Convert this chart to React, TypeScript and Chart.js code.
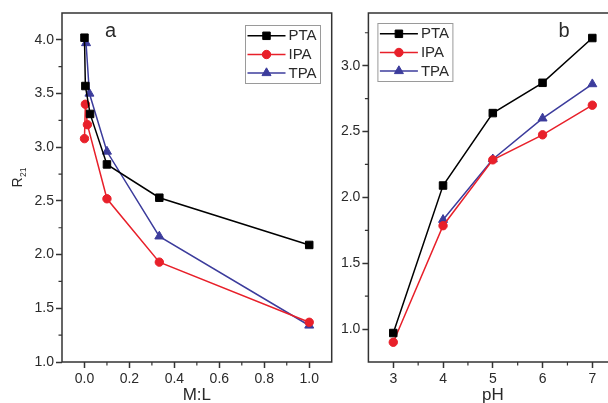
import React, { useEffect, useRef } from 'react';
import { Chart, registerables } from 'chart.js';

Chart.register(...registerables);

// ---------- data ----------
const seriesNames = ['PTA', 'IPA', 'TPA'];
const seriesColors = ['#000000', '#e8202a', '#3c3c9c'];
const seriesMarkers = ['rect', 'circle', 'triangle'];
const seriesRadius = [5.3, 4.2, 5.2];

// panel a : R21 vs M:L
const ratioPTA = [0, 0.004, 0.025, 0.1, 0.333, 1.0];
const r21PTA = [4.02, 3.57, 3.31, 2.84, 2.53, 2.09];
const ratioIPA = [0, 0.004, 0.013, 0.1, 0.333, 1.0];
const r21IPA = [3.08, 3.4, 3.21, 2.52, 1.93, 1.37];
const ratioTPA = [0.007, 0.022, 0.1, 0.333, 1.0];
const r21TPA = [3.97, 3.5, 2.96, 2.17, 1.34];

// panel b : R21 vs pH
const phPTA = [3, 4, 5, 6, 7];
const phR21PTA = [0.97, 2.09, 2.64, 2.87, 3.21];
const phIPA = [3, 4, 5, 6, 7];
const phR21IPA = [0.9, 1.785, 2.285, 2.475, 2.7];
const phTPA = [4, 5, 6, 7];
const phR21TPA = [1.83, 2.29, 2.6, 2.86];

// ticks
const xTicksA = [0, 0.2, 0.4, 0.6, 0.8, 1.0];
const xMinorA = [0.1, 0.3, 0.5, 0.7, 0.9];
const yTicksA = [1.0, 1.5, 2.0, 2.5, 3.0, 3.5, 4.0];
const yMinorA = [1.25, 1.75, 2.25, 2.75, 3.25, 3.75];
const xTicksB = [3, 4, 5, 6, 7];
const xMinorB = [3.5, 4.5, 5.5, 6.5];
const yTicksB = [1.0, 1.5, 2.0, 2.5, 3.0];
const yMinorB = [1.25, 1.75, 2.25, 2.75, 3.25];

// ---------- styling ----------
const FONT = '"Liberation Sans", Arial, Helvetica, sans-serif';
const AXIS_COLOR = '#333333';
const TEXT_COLOR = '#2a2a2a';

function toPoints(xs: number[], ys: number[]) {
  return xs.map((x, i) => ({ x, y: ys[i] }));
}

function makeDatasets(groups: { x: number[]; y: number[] }[]) {
  return groups.map((g, i) => ({
    label: seriesNames[i],
    data: toPoints(g.x, g.y),
    borderColor: seriesColors[i],
    backgroundColor: seriesColors[i],
    pointBackgroundColor: seriesColors[i],
    pointBorderColor: seriesColors[i],
    pointStyle: seriesMarkers[i],
    pointRadius: seriesRadius[i],
    pointBorderWidth: 1,
    borderWidth: 1.5,
    tension: 0,
    fill: false,
  }));
}

function drawMarker(ctx: CanvasRenderingContext2D, style: string, x: number, y: number, r: number) {
  ctx.beginPath();
  if (style === 'rect') {
    const s = Math.SQRT1_2 * r;
    ctx.rect(x - s, y - s, 2 * s, 2 * s);
  } else if (style === 'circle') {
    ctx.arc(x, y, r, 0, Math.PI * 2);
  } else {
    const k = (2 * Math.PI) / 3;
    ctx.moveTo(x, y - r);
    ctx.lineTo(x + Math.sin(k) * r, y - Math.cos(k) * r);
    ctx.lineTo(x + Math.sin(2 * k) * r, y - Math.cos(2 * k) * r);
    ctx.closePath();
  }
  ctx.fill();
  ctx.stroke();
}

type DecorOpts = {
  minorX: number[];
  minorY: number[];
  legendDx: number;
  legendDy: number;
  letter: string;
  letterDx: number;
  letterY: number;
  yLabel: boolean;
};

function decorPlugin(o: DecorOpts) {
  return {
    id: 'decor',
    afterDraw(chart: any) {
      const { ctx, chartArea: a, scales } = chart;
      ctx.save();
      // frame
      ctx.strokeStyle = AXIS_COLOR;
      ctx.lineWidth = 1.5;
      ctx.strokeRect(a.left, a.top, a.right - a.left, a.bottom - a.top);
      // minor ticks
      ctx.lineWidth = 1.2;
      ctx.beginPath();
      o.minorX.forEach((v) => {
        const px = scales.x.getPixelForValue(v);
        ctx.moveTo(px, a.bottom);
        ctx.lineTo(px, a.bottom + 3.5);
      });
      o.minorY.forEach((v) => {
        const py = scales.y.getPixelForValue(v);
        ctx.moveTo(a.left, py);
        ctx.lineTo(a.left - 3.5, py);
      });
      ctx.stroke();

      // legend
      const bx = a.left + o.legendDx;
      const by = a.top + o.legendDy;
      const bw = 75;
      const bh = 58;
      ctx.fillStyle = '#ffffff';
      ctx.fillRect(bx, by, bw, bh);
      ctx.strokeStyle = '#9a9a9a';
      ctx.lineWidth = 1;
      ctx.strokeRect(bx + 0.5, by + 0.5, bw, bh);
      const rows = [10.8, 29.5, 48];
      chart.data.datasets.forEach((ds: any, i: number) => {
        const ry = by + rows[i];
        ctx.strokeStyle = ds.borderColor;
        ctx.fillStyle = ds.borderColor;
        ctx.lineWidth = 1.5;
        ctx.beginPath();
        ctx.moveTo(bx + 2.5, ry);
        ctx.lineTo(bx + 40.5, ry);
        ctx.stroke();
        ctx.lineWidth = 1;
        drawMarker(ctx, ds.pointStyle, bx + 21.5, ry, ds.pointRadius);
        ctx.fillStyle = TEXT_COLOR;
        ctx.font = '15px ' + FONT;
        ctx.textAlign = 'left';
        ctx.textBaseline = 'middle';
        ctx.fillText(ds.label, bx + 43.5, ry + 0.5);
      });

      // panel letter
      ctx.fillStyle = TEXT_COLOR;
      ctx.font = '20px ' + FONT;
      ctx.textAlign = 'left';
      ctx.textBaseline = 'alphabetic';
      ctx.fillText(o.letter, a.left + o.letterDx, o.letterY);

      // y label R21
      if (o.yLabel) {
        ctx.translate(21.5, 187.5);
        ctx.rotate(-Math.PI / 2);
        ctx.font = '14px ' + FONT;
        ctx.fillText('R', 0, 0);
        const w = ctx.measureText('R').width;
        ctx.font = '8.5px ' + FONT;
        ctx.fillText('21', w + 0.5, 4.5);
      }
      ctx.restore();
    },
  };
}

function axisCommon(ticks: number[], fixed: number, fitSize: number, horizontal: boolean, title?: string) {
  return {
    type: 'linear' as const,
    afterBuildTicks: (s: any) => {
      s.ticks = ticks.map((v) => ({ value: v }));
    },
    afterFit: (s: any) => {
      if (horizontal) s.height = fitSize;
      else s.width = fitSize;
    },
    ticks: {
      autoSkip: false,
      maxRotation: 0,
      padding: horizontal ? 3 : 2,
      color: TEXT_COLOR,
      font: { family: FONT, size: 14 },
      callback: (v: any) => Number(v).toFixed(fixed),
    },
    grid: {
      display: true,
      drawOnChartArea: false,
      drawTicks: true,
      tickLength: 6,
      tickColor: AXIS_COLOR,
      tickWidth: 1.5,
      color: AXIS_COLOR,
    },
    border: { display: false },
    title: title
      ? {
          display: true,
          text: title,
          color: TEXT_COLOR,
          font: { family: FONT, size: 17, lineHeight: 0.95 },
          padding: 0,
        }
      : { display: false },
  };
}

function ChartPanel(props: { config: any; left: number; width: number }) {
  const ref = useRef<HTMLCanvasElement | null>(null);
  useEffect(() => {
    if (!ref.current) return;
    const chart = new Chart(ref.current, props.config);
    return () => chart.destroy();
  }, []);
  return (
    <canvas
      ref={ref}
      width={props.width}
      height={403}
      style={{ position: 'absolute', left: props.left, top: 0, width: props.width, height: 403 }}
    />
  );
}

const configA = {
  type: 'line',
  data: {
    datasets: makeDatasets([
      { x: ratioPTA, y: r21PTA },
      { x: ratioIPA, y: r21IPA },
      { x: ratioTPA, y: r21TPA },
    ]),
  },
  options: {
    responsive: false,
    animation: false,
    devicePixelRatio: 1,
    layout: { padding: { left: 0, top: 13, right: 3, bottom: 0 } },
    plugins: { legend: { display: false }, tooltip: { enabled: false } },
    scales: {
      x: { ...axisCommon(xTicksA, 1, 41, true, 'M:L'), min: -0.1, max: 1.1 },
      y: { ...axisCommon(yTicksA, 1, 62, false), min: 1.0, max: 4.25 },
    },
  },
  plugins: [
    decorPlugin({
      minorX: xMinorA,
      minorY: yMinorA,
      legendDx: 183,
      legendDy: 12,
      letter: 'a',
      letterDx: 43,
      letterY: 37,
      yLabel: true,
    }),
  ],
};

const configB = {
  type: 'line',
  data: {
    datasets: makeDatasets([
      { x: phPTA, y: phR21PTA },
      { x: phIPA, y: phR21IPA },
      { x: phTPA, y: phR21TPA },
    ]),
  },
  options: {
    responsive: false,
    animation: false,
    devicePixelRatio: 1,
    layout: { padding: { left: 0, top: 13, right: 8.8, bottom: 0 } },
    plugins: { legend: { display: false }, tooltip: { enabled: false } },
    scales: {
      x: { ...axisCommon(xTicksB, 0, 41, true, 'pH'), min: 2.5, max: 7.5 },
      y: { ...axisCommon(yTicksB, 1, 32.4, false), min: 0.75, max: 3.4 },
    },
  },
  plugins: [
    decorPlugin({
      minorX: xMinorB,
      minorY: yMinorB,
      legendDx: 9,
      legendDy: 10,
      letter: 'b',
      letterDx: 190,
      letterY: 37.3,
      yLabel: false,
    }),
  ],
};

export default function App() {
  return (
    <div
      style={{
        position: 'fixed',
        left: 0,
        top: 0,
        width: 608,
        height: 403,
        overflow: 'hidden',
        background: '#ffffff',
      }}
    >
      <ChartPanel config={configA} left={0} width={338} />
      <ChartPanel config={configB} left={336} width={290} />
    </div>
  );
}
